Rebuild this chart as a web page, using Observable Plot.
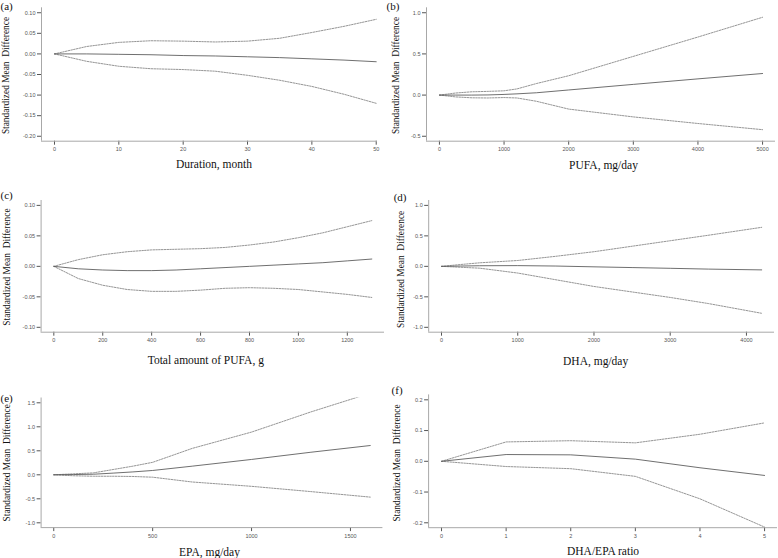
<!DOCTYPE html>
<html>
<head>
<meta charset="utf-8">
<script src="https://cdn.jsdelivr.net/npm/d3@7"></script>
<script src="https://cdn.jsdelivr.net/npm/@observablehq/plot@0.6"></script>
<style>
  html, body { margin: 0; padding: 0; background: #fff; }
  #chart { position: relative; width: 778px; height: 558px; overflow: hidden; background: #fff; }
  #chart svg { position: absolute; }
</style>
</head>
<body>
<div id="chart"></div>
<script>
// ---------- data ----------
const yTitle = "Standardized Mean\u00a0 Difference";

// (a) Duration, month
const durX   = [0, 5, 10, 15, 20, 25, 30, 35, 40, 45, 50];
const durMid = [0, 0, -0.001, -0.002, -0.004, -0.005, -0.007, -0.009, -0.012, -0.015, -0.019];
const durLo  = [0, -0.018, -0.030, -0.036, -0.038, -0.042, -0.052, -0.064, -0.079, -0.098, -0.120];
const durHi  = [0, 0.018, 0.028, 0.032, 0.031, 0.029, 0.031, 0.038, 0.052, 0.067, 0.084];
const durXTicks = [0, 10, 20, 30, 40, 50];
const durYTicks = [0.10, 0.05, 0.00, -0.05, -0.10, -0.15, -0.20];

// (b) PUFA, mg/day
const pufaX   = [0, 250, 500, 750, 1000, 1200, 1500, 2000, 3000, 4000, 5000];
const pufaMid = [0, 0, 0, 0.002, 0.008, 0.015, 0.028, 0.062, 0.130, 0.197, 0.262];
const pufaLo  = [0, -0.022, -0.033, -0.035, -0.030, -0.035, -0.075, -0.170, -0.265, -0.345, -0.420];
const pufaHi  = [0, 0.025, 0.040, 0.045, 0.052, 0.075, 0.140, 0.235, 0.470, 0.705, 0.945];
const pufaXTicks = [0, 1000, 2000, 3000, 4000, 5000];
const pufaYTicks = [1.0, 0.5, 0.0, -0.5];

// (c) Total amount of PUFA, g
const totX   = [0, 100, 200, 300, 400, 500, 600, 700, 800, 900, 1000, 1100, 1200, 1300];
const totMid = [0, -0.004, -0.006, -0.007, -0.007, -0.006, -0.004, -0.002, 0.000, 0.002, 0.004, 0.006, 0.009, 0.012];
const totLo  = [0, -0.020, -0.031, -0.038, -0.041, -0.041, -0.039, -0.036, -0.035, -0.036, -0.038, -0.042, -0.046, -0.051];
const totHi  = [0, 0.011, 0.019, 0.024, 0.027, 0.028, 0.029, 0.031, 0.035, 0.040, 0.047, 0.055, 0.065, 0.075];
const totXTicks = [0, 200, 400, 600, 800, 1000, 1200];
const totYTicks = [0.10, 0.05, 0.00, -0.05, -0.10];

// (d) DHA, mg/day
const dhaX   = [0, 250, 500, 1000, 1500, 2000, 2500, 3000, 3500, 4200];
const dhaMid = [0, 0.005, 0.010, 0.012, 0.005, -0.008, -0.020, -0.032, -0.045, -0.058];
const dhaLo  = [0, -0.015, -0.030, -0.110, -0.220, -0.330, -0.420, -0.510, -0.610, -0.770];
const dhaHi  = [0, 0.030, 0.058, 0.096, 0.165, 0.240, 0.330, 0.420, 0.510, 0.640];
const dhaXTicks = [0, 1000, 2000, 3000, 4000];
const dhaYTicks = [1.0, 0.5, 0.0, -0.5, -1.0];

// (e) EPA, mg/day
const epaX   = [0, 100, 200, 300, 400, 500, 700, 1000, 1300, 1600];
const epaMid = [0, 0.005, 0.012, 0.035, 0.060, 0.090, 0.180, 0.320, 0.470, 0.610];
const epaLo  = [0, -0.020, -0.030, -0.030, -0.035, -0.050, -0.150, -0.240, -0.350, -0.465];
const epaHi  = [0, 0.020, 0.040, 0.110, 0.180, 0.260, 0.550, 0.890, 1.310, 1.700];
const epaXTicks = [0, 500, 1000, 1500];
const epaYTicks = [1.5, 1.0, 0.5, 0.0, -0.5, -1.0];

// (f) DHA/EPA ratio
const ratX   = [0, 1, 2, 3, 4, 5];
const ratMid = [0, 0.022, 0.021, 0.007, -0.021, -0.046];
const ratLo  = [0, -0.017, -0.024, -0.049, -0.122, -0.214];
const ratHi  = [0, 0.063, 0.067, 0.060, 0.088, 0.125];
const ratXTicks = [0, 1, 2, 3, 4, 5];
const ratYTicks = [0.2, 0.1, 0.0, -0.1, -0.2];

// ---------- layout ----------
const panels = [
  {letter: "(a)", xLabel: "Duration, month", x: durX, mid: durMid, lo: durLo, hi: durHi,
   xTicks: durXTicks, yTicks: durYTicks, yDec: 2,
   left: 0, top: 0, width: 389, height: 178, mL: 41, mR: 12, mT: 7.3, mB: 37.3,
   xDomain: [-2.02, 50.2], yDomain: [-0.212, 0.112],
   letterDx: -41, letterDy: -1.5, titleDx: -36, titleDy: 1, labelDx: 4.5, labelDy: 23.3},
  {letter: "(b)", xLabel: "PUFA, mg/day", x: pufaX, mid: pufaMid, lo: pufaLo, hi: pufaHi,
   xTicks: pufaXTicks, yTicks: pufaYTicks, yDec: 1,
   left: 384, top: 0, width: 394, height: 178, mL: 42, mR: 3, mT: 7.3, mB: 37.3,
   xDomain: [-200, 5200], yDomain: [-0.56, 1.06],
   letterDx: -40, letterDy: -1.5, titleDx: -31, titleDy: 1, labelDx: 2.5, labelDy: 23.8},
  {letter: "(c)", xLabel: "Total amount of PUFA, g", x: totX, mid: totMid, lo: totLo, hi: totHi,
   xTicks: totXTicks, yTicks: totYTicks, yDec: 2,
   left: 0, top: 180, width: 389, height: 188, mL: 40.6, mR: 5, mT: 20, mB: 36.3,
   xDomain: [-52, 1352], yDomain: [-0.108, 0.108],
   letterDx: -40.6, letterDy: -5, titleDx: -34.3, titleDy: 0.7, labelDx: -7, labelDy: 28.3},
  {letter: "(d)", xLabel: "DHA, mg/day", x: dhaX, mid: dhaMid, lo: dhaLo, hi: dhaHi,
   xTicks: dhaXTicks, yTicks: dhaYTicks, yDec: 1,
   left: 384, top: 180, width: 394, height: 188, mL: 44.2, mR: 4, mT: 20, mB: 36.3,
   xDomain: [-168, 4368], yDomain: [-1.08, 1.08],
   letterDx: -35, letterDy: -3.5, titleDx: -28, titleDy: 3, labelDx: -6, labelDy: 29.2},
  {letter: "(e)", xLabel: "EPA, mg/day", x: epaX, mid: epaMid, lo: epaLo, hi: epaHi,
   xTicks: epaXTicks, yTicks: epaYTicks, yDec: 1,
   left: 0, top: 368, width: 389, height: 190, mL: 40.6, mR: 6.6, mT: 29.5, mB: 30.9,
   xDomain: [-64, 1664], yDomain: [-1.1, 1.6],
   letterDx: -40.6, letterDy: 0.5, titleDx: -34, titleDy: 0, labelDx: -2.5, labelDy: 24.9},
  {letter: "(f)", xLabel: "DHA/EPA ratio", x: ratX, mid: ratMid, lo: ratLo, hi: ratHi,
   xTicks: ratXTicks, yTicks: ratYTicks, yDec: 1,
   left: 384, top: 368, width: 394, height: 190, mL: 44.1, mR: 1, mT: 26.4, mB: 30.8,
   xDomain: [-0.2, 5.2], yDomain: [-0.216, 0.216],
   letterDx: -37, letterDy: -4, titleDx: -31.4, titleDy: 1.7, labelDx: 0, labelDy: 24.1}
];

const serif = "'Liberation Serif', 'DejaVu Serif', serif";
const sans = "'Liberation Sans', Arial, sans-serif";
const chart = document.getElementById("chart");

for (const p of panels) {
  const rows = p.x.map((x, i) => ({x, mid: p.mid[i], lo: p.lo[i], hi: p.hi[i]}));
  const svg = Plot.plot({
    width: p.width,
    height: p.height,
    marginLeft: p.mL,
    marginRight: p.mR,
    marginTop: p.mT,
    marginBottom: p.mB,
    style: {fontFamily: sans, fontSize: "5.5px", color: "#555", background: "transparent"},
    x: {domain: p.xDomain, ticks: p.xTicks, tickFormat: d => String(d), tickSize: 4, tickPadding: 2, label: null},
    y: {domain: p.yDomain, ticks: p.yTicks, tickFormat: d => d.toFixed(p.yDec), tickSize: 4, tickPadding: 2, label: null},
    marks: [
      Plot.ruleX([p.xDomain[0]], {stroke: "#a8a8a8", strokeWidth: 1}),
      Plot.ruleY([p.yDomain[0]], {stroke: "#a8a8a8", strokeWidth: 1}),
      Plot.line(rows, {x: "x", y: "hi", stroke: "#7a7a7a", strokeWidth: 0.8, strokeDasharray: "1.6,1.2", clip: true}),
      Plot.line(rows, {x: "x", y: "lo", stroke: "#7a7a7a", strokeWidth: 0.8, strokeDasharray: "1.6,1.2", clip: true}),
      Plot.line(rows, {x: "x", y: "mid", stroke: "#555", strokeWidth: 0.85, clip: true}),
      Plot.text([p.letter], {frameAnchor: "top-left", dx: p.letterDx, dy: p.letterDy,
        textAnchor: "start", lineAnchor: "middle",
        fontFamily: serif, fontSize: 11, fill: "#111"}),
      Plot.text([yTitle], {frameAnchor: "left", dx: p.titleDx, dy: p.titleDy, rotate: -90,
        textAnchor: "middle", lineAnchor: "middle",
        fontFamily: serif, fontSize: 9.4, fill: "#111"}),
      Plot.text([p.xLabel], {frameAnchor: "bottom", dx: p.labelDx, dy: p.labelDy,
        textAnchor: "middle", lineAnchor: "middle",
        fontFamily: serif, fontSize: 11.5, fill: "#111"})
    ]
  });
  svg.style.left = p.left + "px";
  svg.style.top = p.top + "px";
  chart.appendChild(svg);
}
</script>
</body>
</html>
